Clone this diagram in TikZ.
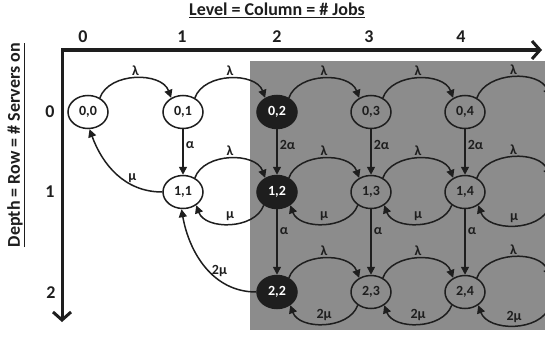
\documentclass[tikz,border=0pt]{standalone}
\usepackage{fontspec}
\setmainfont{Carlito}
\usetikzlibrary{arrows.meta, shapes.geometric}
\definecolor{qgrey}{HTML}{8C8C8C}
\definecolor{qink}{HTML}{1E1E1E}

\begin{document}
\begin{tikzpicture}[x=1pt, y=-1pt,
      st/.style={ellipse, draw=qink, line width=1.5pt, minimum width=40pt, minimum height=33pt,
                 inner sep=0pt, font=\bfseries\fontsize{14}{16}\selectfont, text=qink},
      wt/.style={st, fill=white},
      bk/.style={st, fill=qink, text=white},
      tr/.style={-{Triangle[length=8pt,width=8pt]}, line width=1.5pt, draw=qink},
      ax/.style={{Straight Barb[length=8pt,width=18pt]}-{Straight Barb[length=8pt,width=18pt]}, line width=3pt, draw=qink},
      lb/.style={font=\bfseries\fontsize{14}{16}\selectfont, text=qink, inner sep=2pt},
      ttl/.style={font=\bfseries\fontsize{18}{20}\selectfont, text=qink}]

      \useasboundingbox (0,0) rectangle (545,337);
      \clip (0,0) rectangle (545,337);
      \fill[qgrey] (250,61) rectangle (545,330);

      % axes and titles
      \node[ttl] (lvl) at (277,10) {\underline{Level = Column = \# Jobs}};
      \node[ttl, rotate=90] (dep) at (16,145) {\underline{Depth = Row = \# Servers on}};
      \coordinate (org) at (62,50); \coordinate (xe) at (542,50); \coordinate (ye) at (62,322);
      \draw[ax] (xe) -- (org) -- (ye);
      \node[ttl] (c0) at (83,37) {0}; \node[ttl] (c1) at (182,37) {1}; \node[ttl] (c2) at (277,37) {2};
      \node[ttl] (c3) at (369,37) {3}; \node[ttl] (c4) at (461,37) {4};
      \node[ttl] (r0) at (50,112) {0}; \node[ttl] (r1) at (50,192) {1}; \node[ttl] (r2) at (51,293) {2};

      % states
      \node[wt] (s00) at (88,112) {0,0};
      \node[wt] (s01) at (183,112) {0,1};
      \node[bk] (s02) at (277,112) {0,2};
      \node[st] (s03) at (371,112) {0,3};
      \node[st] (s04) at (465,112) {0,4};
      \node[wt] (s11) at (183,192) {1,1};
      \node[bk] (s12) at (277,192) {1,2};
      \node[st] (s13) at (371,192) {1,3};
      \node[st] (s14) at (465,192) {1,4};
      \node[bk] (s22) at (277,292) {2,2};
      \node[st] (s23) at (371,292) {2,3};
      \node[st] (s24) at (465,292) {2,4};
      \coordinate (e0) at (550,97); \coordinate (e1) at (550,177); \coordinate (e2) at (550,277);
      \coordinate (f1) at (550,206); \coordinate (f2) at (550,306);

      % arrivals
      \draw[tr] (s00.50) to[out=70,in=110] node[lb, above] {λ} (s01.130);
      \draw[tr] (s01.50) to[out=70,in=110] node[lb, above] {λ} (s02.130);
      \draw[tr] (s02.50) to[out=70,in=110] node[lb, above] {λ} (s03.130);
      \draw[tr] (s03.50) to[out=70,in=110] node[lb, above] {λ} (s04.130);
      \draw[tr] (s04.50) to[out=70,in=110] node[lb, above] {λ} (e0);
      \draw[tr] (s11.50) to[out=70,in=110] node[lb, above] {λ} (s12.130);
      \draw[tr] (s12.50) to[out=70,in=110] node[lb, above] {λ} (s13.130);
      \draw[tr] (s13.50) to[out=70,in=110] node[lb, above] {λ} (s14.130);
      \draw[tr] (s14.50) to[out=70,in=110] node[lb, above] {λ} (e1);
      \draw[tr] (s22.50) to[out=70,in=110] node[lb, above] {λ} (s23.130);
      \draw[tr] (s23.50) to[out=70,in=110] node[lb, above] {λ} (s24.130);
      \draw[tr] (s24.50) to[out=70,in=110] node[lb, above] {λ} (e2);

      % departures
      \draw[tr] (s12.-135) to[out=-110,in=-70] node[lb, above] {μ} (s11.-45);
      \draw[tr] (s13.-135) to[out=-110,in=-70] node[lb, above] {μ} (s12.-45);
      \draw[tr] (s14.-135) to[out=-110,in=-70] node[lb, above] {μ} (s13.-45);
      \draw[tr] (f1) to[out=-110,in=-70] node[lb, above] {μ} (s14.-45);
      \draw[tr] (s23.-135) to[out=-110,in=-70] node[lb, above] {2μ} (s22.-45);
      \draw[tr] (s24.-135) to[out=-110,in=-70] node[lb, above] {2μ} (s23.-45);
      \draw[tr] (f2) to[out=-110,in=-70] node[lb, above] {2μ} (s24.-45);
      \draw[tr] (s11.west) to[out=180,in=-70] node[lb, above, pos=.3] {μ} (s00.-85);
      \draw[tr] (s22.west) to[out=180,in=-80] node[lb, right, pos=.45] {2μ} (s11.-95);

      % server set-ups
      \draw[tr] (s01) -- node[lb, right, pos=.35] {α} (s11);
      \draw[tr] (s02) -- node[lb, right, pos=.35] {2α} (s12);
      \draw[tr] (s03) -- node[lb, right, pos=.35] {2α} (s13);
      \draw[tr] (s04) -- node[lb, right, pos=.35] {2α} (s14);
      \draw[tr] (s12) -- node[lb, right, pos=.33] {α} (s22);
      \draw[tr] (s13) -- node[lb, right, pos=.33] {α} (s23);
      \draw[tr] (s14) -- node[lb, right, pos=.33] {α} (s24);
    \end{tikzpicture}
\end{document}
